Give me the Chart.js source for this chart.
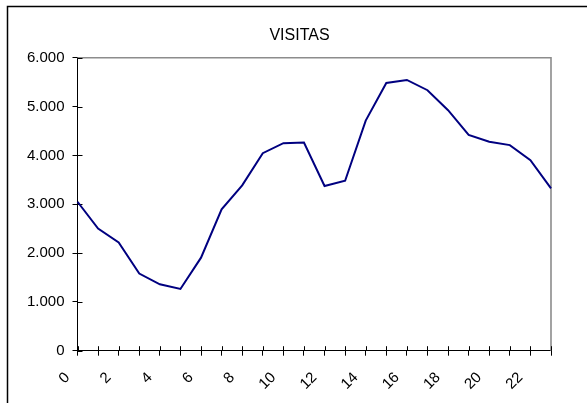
<!DOCTYPE html>
<html>
<head>
<meta charset="utf-8">
<script src="https://cdn.jsdelivr.net/npm/chart.js@4/dist/chart.umd.min.js"></script>
<style>
html,body{margin:0;padding:0;background:#fff;}
canvas{display:block;}
</style>
</head>
<body>
<canvas id="c" width="587" height="403"></canvas>
<script>
const hours = ['0','1','2','3','4','5','6','7','8','9','10','11','12','13','14','15','16','17','18','19','20','21','22','23'];
const visitas = [3050, 2500, 2215, 1580, 1360, 1265, 1905, 2895, 3385, 4045, 4250, 4262, 3372, 3480, 4712, 5484, 5545, 5334, 4925, 4420, 4278, 4210, 3903, 3324];
const yTicks = [0, 1000, 2000, 3000, 4000, 5000, 6000];
const titleText = 'VISITAS';

const FONT = "'Liberation Sans', Arial, sans-serif";

function fmt(v) {
  return String(v).replace(/\B(?=(\d{3})+(?!\d))/g, '.');
}

const framePlugin = {
  id: 'frame',
  beforeDraw(chart) {
    const ctx = chart.ctx;
    ctx.save();
    ctx.fillStyle = '#fff';
    ctx.fillRect(0, 0, chart.width, chart.height);
    ctx.strokeStyle = '#000';
    ctx.lineWidth = 1.5;
    ctx.beginPath();
    ctx.moveTo(7.5, chart.height + 5);
    ctx.lineTo(7.5, 6.5);
    ctx.lineTo(chart.width + 5, 6.5);
    ctx.stroke();
    // title, centred on the whole frame
    ctx.fillStyle = '#000';
    ctx.font = "16px " + FONT;
    ctx.textAlign = 'center';
    ctx.textBaseline = 'middle';
    ctx.fillText(titleText, 299.5, 35.5);
    ctx.restore();
  },
  beforeDatasetsDraw(chart) {
    const ctx = chart.ctx;
    const a = chart.chartArea;
    ctx.save();
    ctx.strokeStyle = '#8c8c8c';
    ctx.lineWidth = 1.6;
    ctx.beginPath();
    ctx.moveTo(a.left, a.top);
    ctx.lineTo(a.right, a.top);
    ctx.lineTo(a.right, a.bottom);
    ctx.stroke();
    // inner halves of tick marks
    ctx.strokeStyle = '#000';
    ctx.lineWidth = 1;
    const xs = chart.scales.x, ys = chart.scales.y;
    ctx.beginPath();
    for (let i = 0; i < xs.ticks.length; i++) {
      const px = Math.round(xs.getPixelForTick(i)) + 0.5;
      ctx.moveTo(px, a.bottom);
      ctx.lineTo(px, a.bottom - 4.5);
    }
    for (let i = 0; i < ys.ticks.length; i++) {
      const py = Math.round(ys.getPixelForTick(i)) + 0.5;
      ctx.moveTo(a.left, py);
      ctx.lineTo(a.left + 5, py);
    }
    ctx.stroke();
    ctx.restore();
  }
};

new Chart(document.getElementById('c'), {
  type: 'line',
  data: {
    labels: hours,
    datasets: [{
      data: visitas,
      borderColor: '#000080',
      borderWidth: 2,
      pointRadius: 0,
      tension: 0,
      fill: false
    }]
  },
  options: {
    responsive: false,
    animation: false,
    devicePixelRatio: 1,
    layout: { padding: { left: 8, right: 36, top: 57.7, bottom: 0 } },
    plugins: {
      legend: { display: false },
      tooltip: { enabled: false },
      title: { display: false }
    },
    scales: {
      x: {
        type: 'category',
        offset: false,
        grid: { display: true, drawOnChartArea: false, drawTicks: true, tickLength: 5, color: '#000' },
        border: { display: true, color: '#000', width: 1 },
        ticks: {
          autoSkip: false,
          minRotation: 45,
          maxRotation: 45,
          padding: 13,
          labelOffset: -10,
          color: '#000',
          font: { family: FONT, size: 15 },
          callback: function(val, idx) {
            const l = this.getLabelForValue(val);
            return (Number(l) % 2 === 0) ? l : '';
          }
        },
        afterFit(scale) { scale.height = 52.3; }
      },
      y: {
        min: 0,
        max: 6000,
        afterBuildTicks(scale) { scale.ticks = yTicks.map(v => ({ value: v })); },
        grid: { display: true, drawOnChartArea: false, drawTicks: true, tickLength: 5, color: '#000' },
        border: { display: true, color: '#000', width: 1 },
        ticks: {
          padding: 8,
          color: '#000',
          font: { family: FONT, size: 15 },
          callback: v => fmt(v)
        },
        afterFit(scale) { scale.width = 69.5; }
      }
    }
  },
  plugins: [framePlugin]
});
</script>
</body>
</html>
